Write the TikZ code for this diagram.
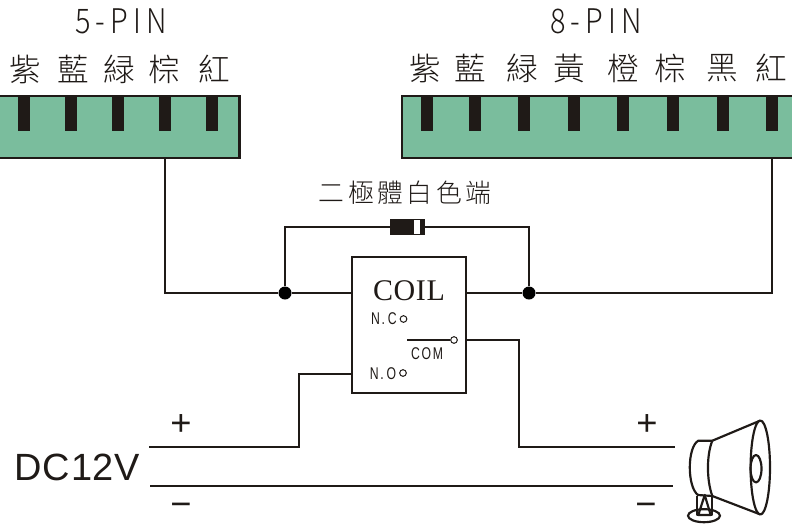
\documentclass[tikz,border=0pt]{standalone}
\usepackage{fontspec}
\setmainfont{Liberation Sans}
\newfontfamily\cjk{Noto Sans CJK TC Light}
\newfontfamily\cjkwide[LetterSpace=14]{Noto Sans CJK TC Light}
\newfontfamily\pinfont[FakeStretch=0.85,LetterSpace=15]{Noto Sans CJK TC Light}
\newfontfamily\coilfont[LetterSpace=2]{Liberation Serif}
\newfontfamily\tagfont[FakeStretch=0.72,LetterSpace=10]{Liberation Sans}
\newfontfamily\dcfont[LetterSpace=2]{Liberation Sans}
\definecolor{hdrgreen}{HTML}{7ABD9D}
\definecolor{ink}{HTML}{1F1A17}
\tikzstyle{hdr}=[shape=rectangle,draw=ink,fill=hdrgreen,line width=0.085cm,inner sep=0pt,outer sep=0pt,minimum height=1.86cm]
\tikzstyle{pin}=[shape=rectangle,fill=ink,anchor=north,inner sep=0pt,minimum width=0.36cm,minimum height=1.05cm]
\tikzstyle{cn}=[shape=circle,fill=black,inner sep=0pt,minimum size=0.39cm]
\tikzstyle{hole}=[shape=circle,draw=ink,fill=white,line width=0.03cm,inner sep=0pt,minimum size=0.2cm]
\tikzstyle{wire}=[draw=ink,line width=0.085cm,line join=miter]
\tikzstyle{thin}=[draw=ink,line width=0.065cm,line join=round]
\tikzstyle{wirecolor}=[inner sep=0pt,text=ink,font=\cjk\fontsize{27}{28}\selectfont]
\tikzstyle{pinname}=[inner sep=0pt,text=ink,font=\pinfont\fontsize{29}{30}\selectfont]
\tikzstyle{tag}=[inner sep=0pt,text=ink,font=\tagfont\fontsize{14.5}{15}\selectfont]
\tikzstyle{sign}=[inner sep=0pt,text=ink,font=\fontsize{31}{32}\selectfont]

\begin{document}
\begin{tikzpicture}[x=0.03cm,y=-0.03cm]
            \useasboundingbox (0,0) rectangle (792,526);

            \node[hdr,minimum width=7.3cm] (hdrFive) at (118,127) {};
            \node[hdr,minimum width=11.91cm] (hdrEight) at (600.5,127) {};

            \node[pin] (pinFiveA) at (24,96) {};
            \node[pin] (pinFiveB) at (71,96) {};
            \node[pin] (pinFiveC) at (118,96) {};
            \node[pin] (pinFiveD) at (165,96) {};
            \node[pin] (pinFiveE) at (212,96) {};

            \node[pin] (pinEightA) at (427,96) {};
            \node[pin] (pinEightB) at (475,96) {};
            \node[pin] (pinEightC) at (524,96) {};
            \node[pin] (pinEightD) at (574,96) {};
            \node[pin] (pinEightE) at (623,96) {};
            \node[pin] (pinEightF) at (673,96) {};
            \node[pin] (pinEightG) at (723,96) {};
            \node[pin] (pinEightH) at (772,96) {};

            \node[pinname] (nameFive) at (121,21) {5-PIN};
            \node[pinname] (nameEight) at (596,21) {8-PIN};

            \node[wirecolor] (colFiveA) at (25,69) {紫};
            \node[wirecolor] (colFiveB) at (73,69) {藍};
            \node[wirecolor] (colFiveC) at (119,69) {緑};
            \node[wirecolor] (colFiveD) at (164,69) {棕};
            \node[wirecolor] (colFiveE) at (214,69) {紅};

            \node[wirecolor] (colEightA) at (425,68) {紫};
            \node[wirecolor] (colEightB) at (470.5,68) {藍};
            \node[wirecolor] (colEightC) at (522,68) {緑};
            \node[wirecolor] (colEightD) at (569,68) {黃};
            \node[wirecolor] (colEightE) at (623,68) {橙};
            \node[wirecolor] (colEightF) at (670,68) {棕};
            \node[wirecolor] (colEightG) at (722,68) {黑};
            \node[wirecolor] (colEightH) at (771,68) {紅};

            \node[inner sep=0pt,text=ink,font=\cjkwide\fontsize{22}{23}\selectfont] (diodeText) at (405,193) {二極體白色端};

            % relay
            \node[shape=rectangle,draw=ink,line width=0.065cm,inner sep=0pt,outer sep=0pt,minimum width=3.42cm,minimum height=4.08cm] (relay) at (409,325) {};
            \node[inner sep=0pt,text=ink,font=\coilfont\fontsize{25.6}{26}\selectfont] (coil) at (409,291) {COIL};
            \node[tag] (tagNC) at (384,319) {N.\,C};
            \node[tag] (tagNO) at (383,374) {N.\,O};
            \node[tag] (tagCOM) at (427,354) {COM};
            \node[hole] (holeNC) at (403.5,319) {};
            \node[hole] (holeNO) at (403,373) {};
            \node[hole] (holeCOM) at (454,340) {};
            \coordinate (armEnd) at (407,340);
            \draw[draw=ink,line width=0.035cm] (armEnd) -- (holeCOM);

            % coil side
            \node[cn] (dotL) at (285,293) {};
            \node[cn] (dotR) at (529,293) {};
            \draw[wire] (pinFiveD |- hdrFive.south) |- (dotL);
            \draw[wire] (pinEightH |- hdrEight.south) |- (dotR);
            \draw[wire] (dotL) -- (relay.west |- dotL);
            \draw[wire] (dotR) -- (relay.east |- dotR);

            \node[shape=rectangle,fill=ink,inner sep=0pt,minimum width=1.06cm,minimum height=0.47cm] (diode) at (407.5,227) {};
            \node[shape=rectangle,fill=white,inner sep=0pt,minimum width=0.17cm,minimum height=0.42cm] (band) at (417,227) {};
            \draw[wire] (dotL) |- (diode.west);
            \draw[wire] (dotR) |- (diode.east);

            % contact side
            \coordinate (plusL) at (149,447);
            \coordinate (plusR) at (675,447);
            \coordinate (minusL) at (150,486);
            \coordinate (minusR) at (673,486);
            \coordinate (noIn) at (352,374);
            \coordinate (comOut) at (466,340);
            \draw[wire] (noIn) -| (299,447) -- (plusL);
            \draw[wire] (comOut) -| (519,447) -- (plusR);
            \draw[wire] (minusL) -- (minusR);

            \node[inner sep=0pt,text=ink,font=\dcfont\fontsize{32.4}{33}\selectfont] (dc) at (77.5,467) {DC12V};
            \node[sign] (plusA) at (181,425) {+};
            \node[sign] (plusB) at (647,425) {+};
            \node[sign] (minusA) at (181,510) {−};
            \node[sign] (minusB) at (646,510) {−};

            % horn
            \draw[draw=ink,line width=0.065cm,fill=white] (704,515.7) ellipse (16 and 6.5);
            \draw[thin] (697.3,496) -- (697.3,515) -- (711.7,515) -- (711.7,496);
            \draw[thin] (704.7,495) -- (698.3,515) -- (710.7,515) -- cycle;
            \draw[thin] (712.3,440.7) -- (760,420.7);
            \draw[thin] (712.3,496) -- (760,514.3);
            \draw[thin] (760.3,467.5) ellipse (9.7 and 47);
            \draw[thin] (756,468.7) ellipse (5.5 and 13.7);
            \draw[thin] (712.3,440.7) .. controls (706.5,455) and (706.5,480) .. (712.3,496);
            \draw[thin] (712.3,440.7) -- (698.3,440.7) .. controls (687,447) and (687,487) .. (698,495) -- (712.3,496);
        \end{tikzpicture}
\end{document}
